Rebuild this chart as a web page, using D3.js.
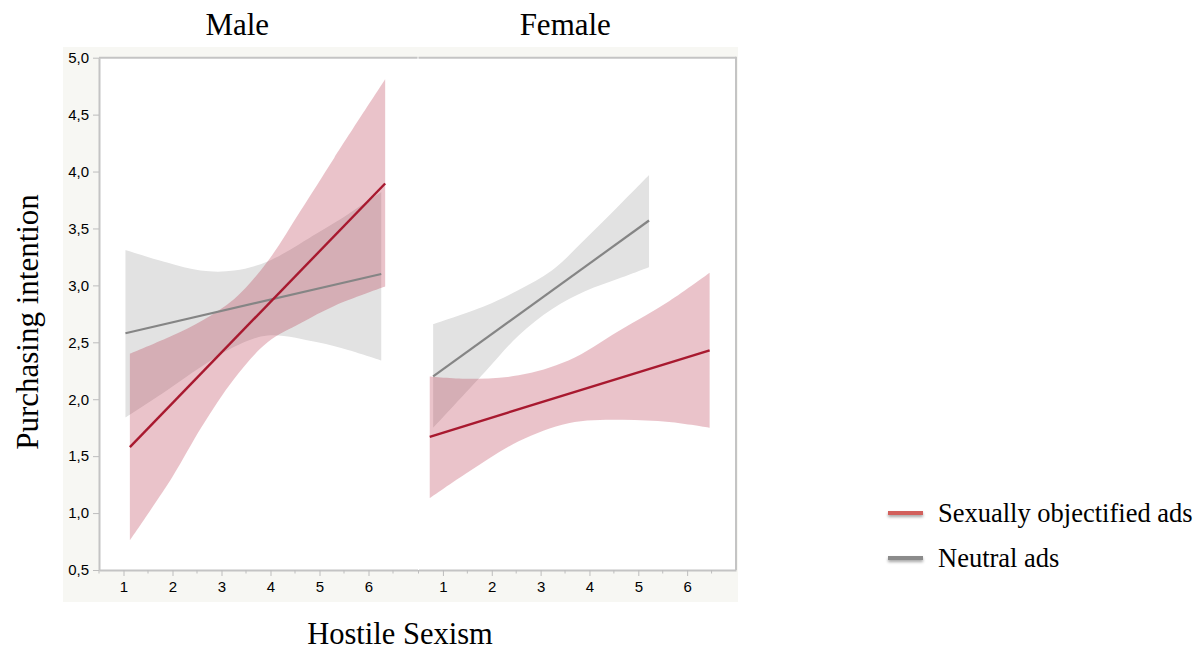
<!DOCTYPE html>
<html>
<head>
<meta charset="utf-8">
<script src="https://cdn.jsdelivr.net/npm/d3@7/dist/d3.min.js"></script>
<style>
  html, body { margin: 0; padding: 0; background: #ffffff; }
  svg { display: block; }
</style>
</head>
<body>
<script>
// ---------- data ----------
const panels = ["Male", "Female"];
const seriesNames = ["Sexually objectified ads", "Neutral ads"];
const yTickValues = [0.5, 1.0, 1.5, 2.0, 2.5, 3.0, 3.5, 4.0, 4.5, 5.0];
const xTickValues = [1, 2, 3, 4, 5, 6];
const xMinorTicks = [0.5, 1.5, 2.5, 3.5, 4.5, 5.5, 6.5];

// Male – sexually objectified ads
const maleSexLineX = [1.13, 6.34];
const maleSexLineY = [1.58, 3.895];
const maleSexBandX = [1.13, 2.0, 2.6, 3.26, 3.94, 4.62, 5.30, 6.34];
const maleSexUpper = [2.40, 2.56, 2.69, 2.88, 3.21, 3.66, 4.12, 4.81];
const maleSexLower = [0.76, 1.32, 1.76, 2.18, 2.50, 2.67, 2.82, 2.99];

// Male – neutral ads
const maleNeuLineX = [1.04, 6.26];
const maleNeuLineY = [2.58, 3.10];
const maleNeuBandX = [1.04, 1.89, 2.57, 3.26, 3.94, 4.96, 5.6, 6.26];
const maleNeuUpper = [3.31, 3.20, 3.13, 3.13, 3.21, 3.46, 3.63, 3.82];
const maleNeuLower = [1.84, 2.08, 2.28, 2.46, 2.56, 2.50, 2.43, 2.34];

// Female – sexually objectified ads
const femSexLineX = [0.73, 6.46];
const femSexLineY = [1.67, 2.43];
const femSexBandX = [0.73, 1.52, 2.55, 3.57, 4.60, 5.63, 6.46];
const femSexUpper = [2.20, 2.18, 2.21, 2.34, 2.60, 2.86, 3.11];
const femSexLower = [1.13, 1.36, 1.63, 1.79, 1.82, 1.80, 1.75];

// Female – neutral ads
const femNeuLineX = [0.80, 5.22];
const femNeuLineY = [2.20, 3.57];
const femNeuBandX = [0.80, 1.86, 2.55, 3.23, 3.92, 4.60, 5.22];
const femNeuUpper = [2.66, 2.82, 2.96, 3.13, 3.41, 3.70, 3.97];
const femNeuLower = [1.75, 2.24, 2.56, 2.79, 2.95, 3.06, 3.16];

// ---------- build ----------
const W = 1203, H = 652;
const svg = d3.select("body").append("svg").attr("width", W).attr("height", H);

const defs = svg.append("defs");
const f = defs.append("filter").attr("id", "shadow").attr("filterUnits", "userSpaceOnUse")
  .attr("x", 870).attr("y", 490).attr("width", 80).attr("height", 90);
f.append("feDropShadow").attr("dx", 0).attr("dy", 2).attr("stdDeviation", 1.5)
  .attr("flood-color", "#000").attr("flood-opacity", 0.35);

const frame = { left: 99, right: 736, top: 57.7, bottom: 570, split: 417.5 };

// grey panel background
svg.append("rect").attr("x", 63).attr("y", 47).attr("width", 675).attr("height", 555).attr("fill", "#f7f7f3");
svg.append("rect").attr("x", frame.left).attr("y", frame.top)
  .attr("width", frame.right - frame.left).attr("height", frame.bottom - frame.top).attr("fill", "#ffffff");

const y = d3.scaleLinear().domain([0.5, 5.0]).range([frame.bottom, frame.top]);
const xScales = [
  d3.scaleLinear().domain([0.5, 7.0]).range([frame.left, frame.split]),
  d3.scaleLinear().domain([0.5, 7.0]).range([frame.split + 1, frame.right])
];

const sexBand = "rgba(176,35,58,0.27)";
const neuBand = "#e2e2e2";
const sexLine = "#a8192f";
const neuLine = "#858585";

const panelData = [
  { sex: { lx: maleSexLineX, ly: maleSexLineY, bx: maleSexBandX, up: maleSexUpper, lo: maleSexLower },
    neu: { lx: maleNeuLineX, ly: maleNeuLineY, bx: maleNeuBandX, up: maleNeuUpper, lo: maleNeuLower } },
  { sex: { lx: femSexLineX, ly: femSexLineY, bx: femSexBandX, up: femSexUpper, lo: femSexLower },
    neu: { lx: femNeuLineX, ly: femNeuLineY, bx: femNeuBandX, up: femNeuUpper, lo: femNeuLower } }
];

panelData.forEach((p, i) => {
  const x = xScales[i];
  const g = svg.append("g");
  const area = d3.area().curve(d3.curveCatmullRom.alpha(0.5))
    .x(d => x(d.x)).y0(d => y(d.lo)).y1(d => y(d.up));
  const line = d3.line().x(d => x(d.x)).y(d => y(d.y));
  const bandRows = s => s.bx.map((v, k) => ({ x: v, up: s.up[k], lo: s.lo[k] }));
  const lineRows = s => s.lx.map((v, k) => ({ x: v, y: s.ly[k] }));

  g.append("path").datum(bandRows(p.neu)).attr("d", area).attr("fill", neuBand);
  g.append("path").datum(bandRows(p.sex)).attr("d", area).attr("fill", sexBand);
  g.append("path").datum(lineRows(p.neu)).attr("d", line).attr("stroke", neuLine).attr("stroke-width", 2.2).attr("fill", "none");
  g.append("path").datum(lineRows(p.sex)).attr("d", line).attr("stroke", sexLine).attr("stroke-width", 2.4).attr("fill", "none");

  // x axis
  const ax = svg.append("g").attr("transform", `translate(0,${frame.bottom})`)
    .call(d3.axisBottom(x).tickValues(xTickValues).tickFormat(d3.format("d")).tickSize(6).tickSizeOuter(0));
  ax.select(".domain").attr("stroke", "#c4c4c4").attr("stroke-width", 2);
  ax.selectAll(".tick line").attr("stroke", "#bdbdbd");
  ax.selectAll(".tick text").attr("font-family", "Liberation Sans, Arial, sans-serif").attr("font-size", 15).attr("fill", "#000").attr("dy", "0.85em");
  svg.append("g").selectAll("line").data(xMinorTicks).join("line")
    .attr("x1", d => x(d)).attr("x2", d => x(d)).attr("y1", frame.bottom).attr("y2", frame.bottom + 3.5)
    .attr("stroke", "#bdbdbd");

  // top frame line per panel
  svg.append("line").attr("x1", x.range()[0]).attr("x2", x.range()[1]).attr("y1", frame.top).attr("y2", frame.top)
    .attr("stroke", "#c4c4c4").attr("stroke-width", 2);

  // panel title
  svg.append("text").attr("x", (x.range()[0] + x.range()[1]) / 2 - (i === 0 ? 21 : 12)).attr("y", 35)
    .attr("text-anchor", "middle").attr("font-family", "Liberation Serif, Times New Roman, serif")
    .attr("font-size", 31).attr("fill", "#000").text(panels[i]);
});

// right frame line
svg.append("line").attr("x1", frame.right).attr("x2", frame.right).attr("y1", frame.top - 1).attr("y2", frame.bottom)
  .attr("stroke", "#c4c4c4").attr("stroke-width", 2);

// y axis
const ay = svg.append("g").attr("transform", `translate(${frame.left},0)`)
  .call(d3.axisLeft(y).tickValues(yTickValues).tickFormat(d => d3.format(".1f")(d).replace(".", ",")).tickSize(6).tickSizeOuter(0));
ay.select(".domain").attr("stroke", "#c4c4c4").attr("stroke-width", 2);
ay.selectAll(".tick line").attr("stroke", "#bdbdbd");
ay.selectAll(".tick text").attr("font-family", "Liberation Sans, Arial, sans-serif").attr("font-size", 15).attr("fill", "#000").attr("x", -10);

// axis titles
svg.append("text").attr("transform", "translate(38,322) rotate(-90)").attr("text-anchor", "middle")
  .attr("font-family", "Liberation Serif, Times New Roman, serif").attr("font-size", 31).attr("fill", "#000")
  .text("Purchasing intention");
svg.append("text").attr("x", 400).attr("y", 644).attr("text-anchor", "middle")
  .attr("font-family", "Liberation Serif, Times New Roman, serif").attr("font-size", 30.5).attr("fill", "#000")
  .text("Hostile Sexism");

// legend
const legendColors = ["#d2605c", "#8b8b8b"];
const legendY = [513, 558];
const lg = svg.append("g");
seriesNames.forEach((name, k) => {
  lg.append("rect").attr("x", 888).attr("y", legendY[k] - 2).attr("width", 35).attr("height", 4)
    .attr("fill", legendColors[k]).attr("filter", "url(#shadow)");
  lg.append("text").attr("x", 938).attr("y", legendY[k] + 9).attr("font-family", "Liberation Serif, Times New Roman, serif")
    .attr("font-size", 26.5).attr("fill", "#000").text(name);
});
</script>
</body>
</html>
